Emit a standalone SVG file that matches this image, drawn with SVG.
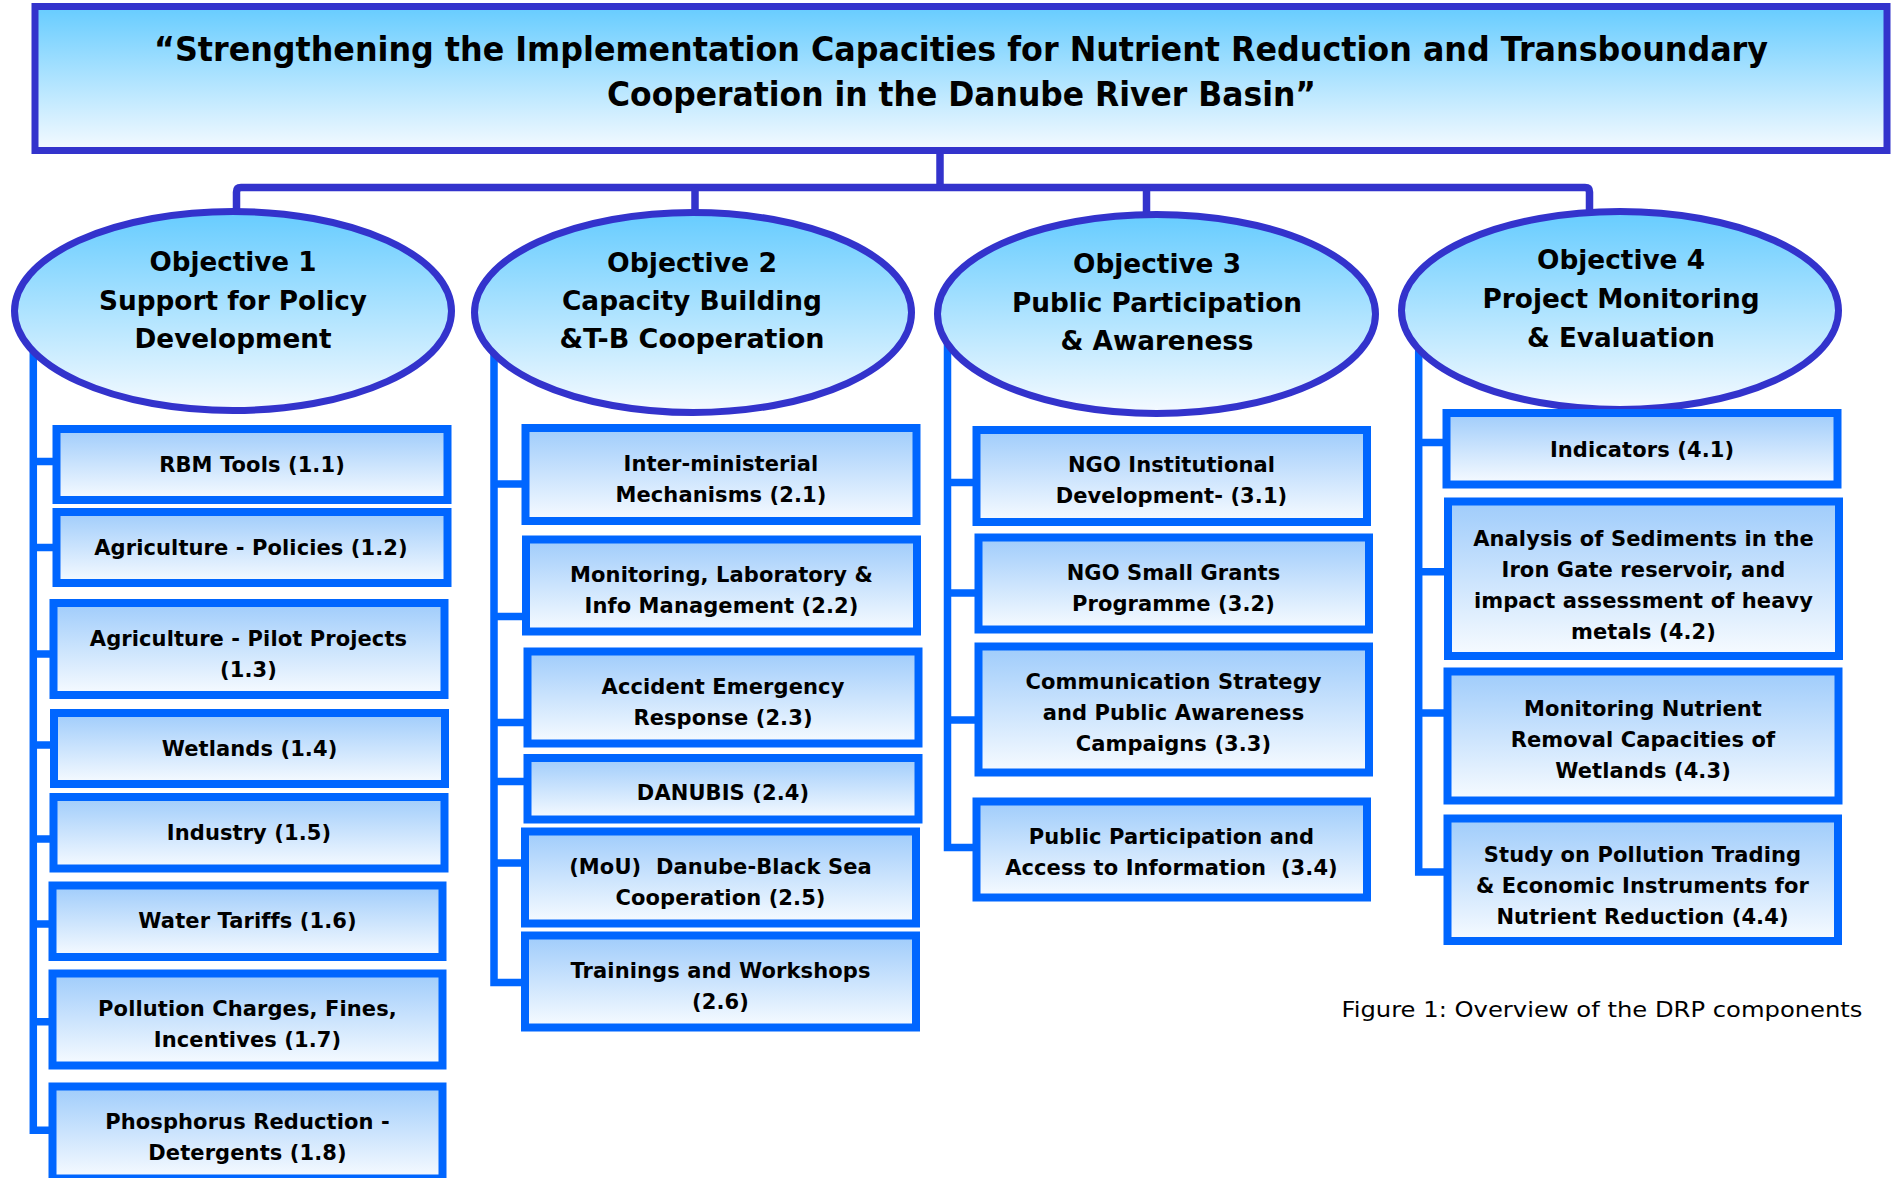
<svg xmlns="http://www.w3.org/2000/svg" width="1892" height="1178" viewBox="0 0 1892 1178">
  <defs>
    <linearGradient id="gTop" x1="0" y1="0" x2="0" y2="1">
      <stop offset="0" stop-color="#66ccff"/>
      <stop offset="1" stop-color="#f5faff"/>
    </linearGradient>
    <linearGradient id="gBox" x1="0" y1="0" x2="0" y2="1">
      <stop offset="0" stop-color="#9fccfb"/>
      <stop offset="1" stop-color="#f7fbff"/>
    </linearGradient>
    <style>
      .head { fill: url(#gTop); stroke: #3333cc; stroke-width: 7; }
      .box { fill: url(#gBox); stroke: #0066ff; stroke-width: 8; }
      .trunk { fill: none; stroke: #3333cc; stroke-width: 7.5; stroke-linejoin: round; }
      .branch { fill: none; stroke: #0066ff; stroke-width: 7.5; stroke-linejoin: miter; }
      text { fill: #000; font-family: "DejaVu Sans", "Liberation Sans", sans-serif; text-anchor: middle; }
      .title { font-size: 33px; font-weight: bold; }
      .obj { font-size: 26px; font-weight: bold; }
      .item { font-size: 21px; font-weight: bold; letter-spacing: 0.1px; }
      .caption { font-size: 21px; text-anchor: start; }
    </style>
  </defs>

  <!-- connectors -->
  <g id="connectors">
    <path class="trunk" d="M940,150 V187.5"/>
    <path class="trunk" d="M236.5,215 V192 Q236.5,187.5 241,187.5 H1585 Q1589.5,187.5 1589.5,192 V215"/>
    <path class="trunk" d="M695,187.5 V215"/>
    <path class="trunk" d="M1146.5,187.5 V215"/>

    <path class="branch" d="M33.3,340 V1130.3 H52.5 M33.3,461.5 H56.5 M33.3,547.5 H56.5 M33.3,654 H53.5 M33.3,745 H54 M33.3,839 H53.5 M33.3,924 H52.5 M33.3,1021.7 H52.5"/>
    <path class="branch" d="M494,345 V982.5 H525 M494,484 H525.5 M494,616.5 H526 M494,722.5 H527.5 M494,781.5 H527.5 M494,863 H525"/>
    <path class="branch" d="M947.5,340 V847.5 H976.5 M947.5,482.5 H976.5 M947.5,593 H978.5 M947.5,720 H978.5"/>
    <path class="branch" d="M1418.7,340 V872 H1447.5 M1418.7,442.4 H1446.5 M1418.7,571.7 H1448 M1418.7,713 H1447.5"/>
  </g>

  <!-- programme title -->
  <g id="title">
    <rect class="head" x="35" y="6.5" width="1852" height="144"/>
    <text class="title" x="961" y="61" textLength="1614" lengthAdjust="spacingAndGlyphs">“Strengthening the Implementation Capacities for Nutrient Reduction and Transboundary</text>
    <text class="title" x="961.5" y="106" textLength="709" lengthAdjust="spacingAndGlyphs">Cooperation in the Danube River Basin”</text>
  </g>

  <!-- objectives -->
  <g id="objective-1">
    <ellipse class="head" cx="233" cy="311" rx="218.5" ry="99.5"/>
    <text class="obj" x="233" y="271" textLength="167" lengthAdjust="spacingAndGlyphs">Objective 1</text>
    <text class="obj" x="233" y="310" textLength="268" lengthAdjust="spacingAndGlyphs">Support for Policy</text>
    <text class="obj" x="233" y="348" textLength="197" lengthAdjust="spacingAndGlyphs">Development</text>
  </g>
  <g id="objective-2">
    <ellipse class="head" cx="693" cy="312.5" rx="218.5" ry="100"/>
    <text class="obj" x="692" y="272" textLength="170" lengthAdjust="spacingAndGlyphs">Objective 2</text>
    <text class="obj" x="692" y="310" textLength="260" lengthAdjust="spacingAndGlyphs">Capacity Building</text>
    <text class="obj" x="692" y="348" textLength="265" lengthAdjust="spacingAndGlyphs">&amp;T-B Cooperation</text>
  </g>
  <g id="objective-3">
    <ellipse class="head" cx="1156.5" cy="314" rx="219" ry="99.5"/>
    <text class="obj" x="1157" y="273" textLength="168" lengthAdjust="spacingAndGlyphs">Objective 3</text>
    <text class="obj" x="1157" y="312" textLength="290" lengthAdjust="spacingAndGlyphs">Public Participation</text>
    <text class="obj" x="1157" y="350" textLength="193" lengthAdjust="spacingAndGlyphs">&amp; Awareness</text>
  </g>
  <g id="objective-4">
    <ellipse class="head" cx="1620" cy="310.5" rx="218.5" ry="99"/>
    <text class="obj" x="1621" y="269" textLength="168" lengthAdjust="spacingAndGlyphs">Objective 4</text>
    <text class="obj" x="1621" y="308" textLength="277" lengthAdjust="spacingAndGlyphs">Project Monitoring</text>
    <text class="obj" x="1621" y="347" textLength="188" lengthAdjust="spacingAndGlyphs">&amp; Evaluation</text>
  </g>

  <!-- objective 1 components -->
  <g id="c1-1">
    <rect class="box" x="56.5" y="429" width="391" height="71"/>
    <text class="item" x="252" y="472">RBM Tools (1.1)</text>
  </g>
  <g id="c1-2">
    <rect class="box" x="56.5" y="512" width="391" height="71"/>
    <text class="item" x="251" y="555">Agriculture - Policies (1.2)</text>
  </g>
  <g id="c1-3">
    <rect class="box" x="53.5" y="603" width="391" height="92"/>
    <text class="item" x="248.5" y="646">Agriculture - Pilot Projects</text>
    <text class="item" x="248.5" y="677">(1.3)</text>
  </g>
  <g id="c1-4">
    <rect class="box" x="54" y="713" width="391" height="71"/>
    <text class="item" x="249.5" y="756">Wetlands (1.4)</text>
  </g>
  <g id="c1-5">
    <rect class="box" x="53.5" y="797" width="391" height="71.5"/>
    <text class="item" x="249" y="840">Industry (1.5)</text>
  </g>
  <g id="c1-6">
    <rect class="box" x="52.5" y="885.5" width="390" height="71.5"/>
    <text class="item" x="247.5" y="927.5">Water Tariffs (1.6)</text>
  </g>
  <g id="c1-7">
    <rect class="box" x="52.5" y="973.5" width="390" height="92"/>
    <text class="item" x="247.5" y="1016">Pollution Charges, Fines,</text>
    <text class="item" x="247.5" y="1047">Incentives (1.7)</text>
  </g>
  <g id="c1-8">
    <rect class="box" x="52.5" y="1086.5" width="390" height="92"/>
    <text class="item" x="247.5" y="1128.5">Phosphorus Reduction -</text>
    <text class="item" x="247.5" y="1160">Detergents (1.8)</text>
  </g>

  <!-- objective 2 components -->
  <g id="c2-1">
    <rect class="box" x="525.5" y="428" width="391" height="93"/>
    <text class="item" x="721" y="470.5">Inter-ministerial</text>
    <text class="item" x="721" y="501.5">Mechanisms (2.1)</text>
  </g>
  <g id="c2-2">
    <rect class="box" x="526" y="539.5" width="391" height="92"/>
    <text class="item" x="721.5" y="581.5">Monitoring, Laboratory &amp;</text>
    <text class="item" x="721.5" y="612.5">Info Management (2.2)</text>
  </g>
  <g id="c2-3">
    <rect class="box" x="527.5" y="651.5" width="391" height="92"/>
    <text class="item" x="723" y="694">Accident Emergency</text>
    <text class="item" x="723" y="725">Response (2.3)</text>
  </g>
  <g id="c2-4">
    <rect class="box" x="527.5" y="758" width="391" height="61.5"/>
    <text class="item" x="723" y="800">DANUBIS (2.4)</text>
  </g>
  <g id="c2-5">
    <rect class="box" x="525" y="831.5" width="391" height="92"/>
    <text class="item" x="720.5" y="874" xml:space="preserve">(MoU)  Danube-Black Sea</text>
    <text class="item" x="720.5" y="905">Cooperation (2.5)</text>
  </g>
  <g id="c2-6">
    <rect class="box" x="525" y="935.5" width="391" height="92"/>
    <text class="item" x="720.5" y="977.5">Trainings and Workshops</text>
    <text class="item" x="720.5" y="1009">(2.6)</text>
  </g>

  <!-- objective 3 components -->
  <g id="c3-1">
    <rect class="box" x="976.5" y="430" width="390.5" height="92"/>
    <text class="item" x="1171.5" y="471.5">NGO Institutional</text>
    <text class="item" x="1171.5" y="502.5">Development- (3.1)</text>
  </g>
  <g id="c3-2">
    <rect class="box" x="978.5" y="537.5" width="390.5" height="92"/>
    <text class="item" x="1173.5" y="580">NGO Small Grants</text>
    <text class="item" x="1173.5" y="610.5">Programme (3.2)</text>
  </g>
  <g id="c3-3">
    <rect class="box" x="978.5" y="646.5" width="390.5" height="126"/>
    <text class="item" x="1173.5" y="688.5">Communication Strategy</text>
    <text class="item" x="1173.5" y="719.5">and Public Awareness</text>
    <text class="item" x="1173.5" y="750.5">Campaigns (3.3)</text>
  </g>
  <g id="c3-4">
    <rect class="box" x="976.5" y="801.5" width="390.5" height="96"/>
    <text class="item" x="1171.5" y="843.5">Public Participation and</text>
    <text class="item" x="1171.5" y="875" xml:space="preserve">Access to Information  (3.4)</text>
  </g>

  <!-- objective 4 components -->
  <g id="c4-1">
    <rect class="box" x="1446.5" y="413" width="391" height="71.5"/>
    <text class="item" x="1642" y="457">Indicators (4.1)</text>
  </g>
  <g id="c4-2">
    <rect class="box" x="1448" y="501.5" width="391" height="154.5"/>
    <text class="item" x="1643.5" y="545.5">Analysis of Sediments in the</text>
    <text class="item" x="1643.5" y="576.5">Iron Gate reservoir, and</text>
    <text class="item" x="1643.5" y="607.5">impact assessment of heavy</text>
    <text class="item" x="1643.5" y="638.5">metals (4.2)</text>
  </g>
  <g id="c4-3">
    <rect class="box" x="1447.5" y="671.5" width="391" height="129"/>
    <text class="item" x="1643" y="716">Monitoring Nutrient</text>
    <text class="item" x="1643" y="747">Removal Capacities of</text>
    <text class="item" x="1643" y="778">Wetlands (4.3)</text>
  </g>
  <g id="c4-4">
    <rect class="box" x="1447.5" y="818.5" width="390.5" height="122.5"/>
    <text class="item" x="1642.5" y="861.5">Study on Pollution Trading</text>
    <text class="item" x="1642.5" y="892.5">&amp; Economic Instruments for</text>
    <text class="item" x="1642.5" y="924">Nutrient Reduction (4.4)</text>
  </g>

  <text class="caption" x="1341.5" y="1017" textLength="521" lengthAdjust="spacingAndGlyphs">Figure 1: Overview of the DRP components</text>
</svg>
